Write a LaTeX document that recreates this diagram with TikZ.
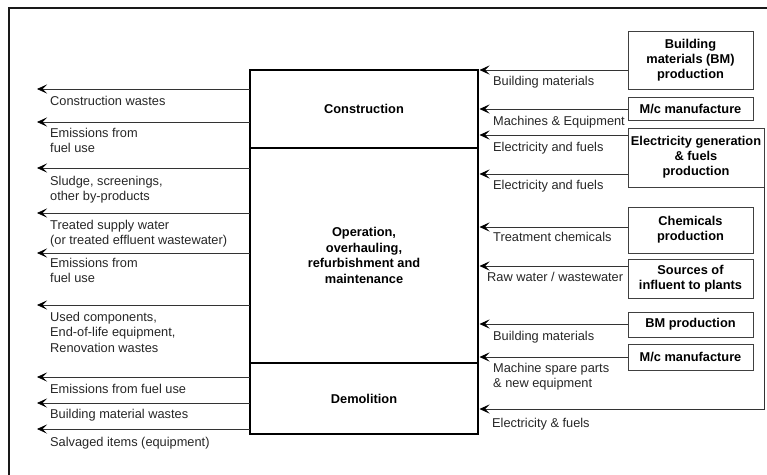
\documentclass[tikz,border=0pt]{standalone}
\usepackage{fontspec}
\setmainfont{Liberation Sans}
\usetikzlibrary{arrows.meta}
\begin{document}
\begin{tikzpicture}[x=1pt,y=-1pt,
  font=\fontsize{12.8}{15.5}\selectfont,
  arr/.style={draw=black!80, line width=0.9pt, -{Stealth[length=10pt,width=9pt,inset=4.5pt,line width=0.6pt,color=black,fill=black]}},
  inarr/.style={arr, shorten >=1.5pt},
  stage/.style={draw=black, line width=2.4pt, anchor=north west, minimum width=228pt,
    inner sep=0pt, outer sep=0pt, align=center, font=\fontsize{12.8}{15.6}\selectfont\bfseries},
  src/.style={draw=black!75, line width=1pt, anchor=north west, inner sep=0pt, outer sep=0pt,
    align=center, font=\fontsize{12.8}{15}\selectfont\bfseries},
  lbl/.style={anchor=north west, inner sep=0pt, align=left, text=black!85},
]
\useasboundingbox (0,0) rectangle (767,474);

% outer frame (open to the right and bottom)
\draw[line width=2pt, black!90] (9,480) -- (9,8) -- (775,8);

% life-cycle stages
\node[stage, minimum height=78pt]  (construction) at (250,70)  {Construction};
\node[stage, minimum height=215pt] (operation)    at (250,148) {Operation,\\overhauling,\\refurbishment and\\maintenance};
\node[stage, minimum height=71pt]  (demolition)   at (250,363) {Demolition};

% upstream sources
\node[src, minimum width=125pt, minimum height=58pt] (bmprod)   at (628,31)  {Building\\materials (BM)\\production};
\node[src, minimum width=125pt, minimum height=23pt] (mcman)    at (628,97)  {M/c manufacture};
\node[src, minimum width=136pt, minimum height=59pt] (elec)     at (628,128) {Electricity generation\\\& fuels\\production};
\node[src, minimum width=125pt, minimum height=46pt] (chem)     at (628,207) {Chemicals\\production};
\node[src, minimum width=125pt, minimum height=39pt] (influent) at (628,259) {Sources of\\influent to plants};
\node[src, minimum width=125pt, minimum height=25pt] (bmprod2)  at (628,312) {BM production};
\node[src, minimum width=125pt, minimum height=26pt] (mcman2)   at (628,344) {M/c manufacture};

% output ends
\coordinate (o1) at (37,89);
\coordinate (o2) at (37,122);
\coordinate (o3) at (37,168);
\coordinate (o4) at (37,213);
\coordinate (o5) at (37,253);
\coordinate (o6) at (37,305);
\coordinate (o7) at (37,377);
\coordinate (o8) at (37,403);
\coordinate (o9) at (37,429);

% outputs
\draw[arr] (construction.west |- o1) -- (o1);
\draw[arr] (construction.west |- o2) -- (o2);
\draw[arr] (operation.west |- o3) -- (o3);
\draw[arr] (operation.west |- o4) -- (o4);
\draw[arr] (operation.west |- o5) -- (o5);
\draw[arr] (operation.west |- o6) -- (o6);
\draw[arr] (demolition.west |- o7) -- (o7);
\draw[arr] (demolition.west |- o8) -- (o8);
\draw[arr] (demolition.west |- o9) -- (o9);

% inputs
\draw[inarr] (bmprod.west |- 0,70)    -- (construction.east |- 0,70);
\draw[inarr] (mcman.west |- 0,109)    -- (construction.east |- 0,109);
\draw[inarr] (elec.west |- 0,135)     -- (construction.east |- 0,135);
\draw[inarr] (elec.west |- 0,174)     -- (operation.east |- 0,174);
\draw[inarr] (chem.west |- 0,227)     -- (operation.east |- 0,227);
\draw[inarr] (influent.west |- 0,266) -- (operation.east |- 0,266);
\draw[inarr] (bmprod2.west |- 0,324)  -- (operation.east |- 0,324);
\draw[inarr] (mcman2.west |- 0,357)   -- (operation.east |- 0,357);
\draw[inarr] (elec.south east) -- (elec.south east |- 0,409) -- (demolition.east |- 0,409);

% output labels
\node[lbl] (l1) at (50,96)  {Construction wastes};
\node[lbl] (l2) at (50,128) {Emissions from\\fuel use};
\node[lbl] (l3) at (50,176) {Sludge, screenings,\\other by-products};
\node[lbl] (l4) at (50,220) {Treated supply water\\(or treated effluent wastewater)};
\node[lbl] (l5) at (50,258) {Emissions from\\fuel use};
\node[lbl] (l6) at (50,312) {Used components,\\End-of-life equipment,\\Renovation wastes};
\node[lbl] (l7) at (50,384) {Emissions from fuel use};
\node[lbl] (l8) at (50,409) {Building material wastes};
\node[lbl] (l9) at (50,437) {Salvaged items (equipment)};

% input labels
\node[lbl] (r1) at (493,76)  {Building materials};
\node[lbl] (r2) at (493,116) {Machines \& Equipment};
\node[lbl] (r3) at (493,142) {Electricity and fuels};
\node[lbl] (r4) at (493,180) {Electricity and fuels};
\node[lbl] (r5) at (493,232) {Treatment chemicals};
\node[lbl] (r6) at (487,272) {Raw water / wastewater};
\node[lbl] (r7) at (493,331) {Building materials};
\node[lbl] (r8) at (493,363) {Machine spare parts\\\& new equipment};
\node[lbl] (r9) at (492,418) {Electricity \& fuels};
\end{tikzpicture}
\end{document}
